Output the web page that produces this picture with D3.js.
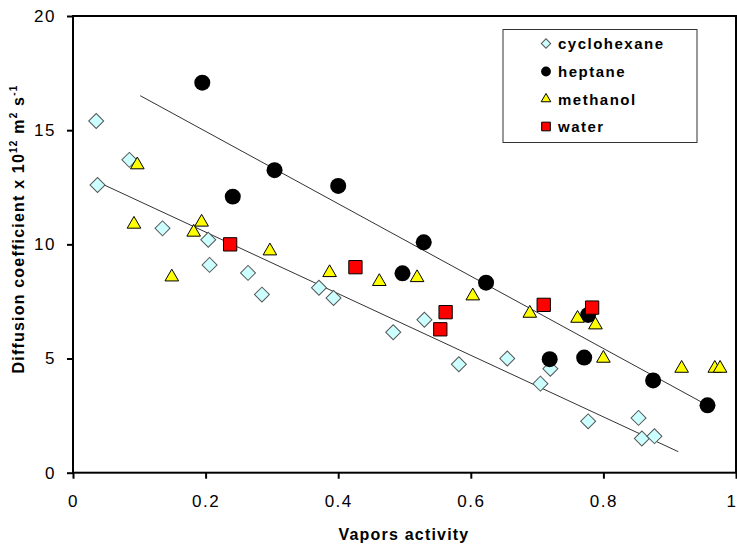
<!DOCTYPE html>
<html>
<head>
<meta charset="utf-8">
<script src="https://cdn.jsdelivr.net/npm/d3@7"></script>
<style>
  html, body { margin: 0; padding: 0; background: #fff; }
  svg { display: block; font-family: "Liberation Sans", Arial, sans-serif; }
</style>
</head>
<body>
<svg id="chart" width="737" height="547"></svg>
<script>
// Diffusion coefficient (x 10^12 m^2/s) against vapour activity
const cyclohexane = [
  [0.035, 15.40], [0.037, 12.60], [0.085, 13.70], [0.135, 10.70],
  [0.204, 10.20], [0.206, 9.10], [0.264, 8.75], [0.285, 7.80],
  [0.371, 8.10], [0.393, 7.65], [0.483, 6.15], [0.530, 6.70],
  [0.582, 4.75], [0.655, 5.00], [0.705, 3.90], [0.720, 4.55],
  [0.777, 2.25], [0.853, 2.40], [0.858, 1.50], [0.877, 1.60]
];
const heptane = [
  [0.195, 17.08], [0.304, 13.25], [0.241, 12.09], [0.400, 12.56],
  [0.529, 10.09], [0.497, 8.73], [0.623, 8.32], [0.719, 4.97],
  [0.771, 5.04], [0.777, 6.91], [0.875, 4.04], [0.957, 2.95]
];
const methanol = [
  [0.097, 13.48], [0.092, 10.88], [0.194, 10.97], [0.182, 10.53],
  [0.297, 9.71], [0.149, 8.57], [0.387, 8.76], [0.462, 8.37],
  [0.519, 8.54], [0.603, 7.74], [0.689, 6.98], [0.761, 6.76],
  [0.788, 6.47], [0.800, 5.01], [0.918, 4.57], [0.968, 4.57],
  [0.976, 4.57]
];
const water = [
  [0.237, 10.00], [0.426, 9.00], [0.562, 7.03], [0.554, 6.28],
  [0.710, 7.35], [0.783, 7.23]
];
// Linear trend lines (start and end points)
const trendUpper = [[0.1015, 16.51], [0.957, 2.95]];
const trendLower = [[0.033, 12.79], [0.913, 0.92]];

const xTicks = [0, 0.2, 0.4, 0.6, 0.8, 1];
const xTickLabels = ["0", "0.2", "0.4", "0.6", "0.8", "1"];
const yTicks = [0, 5, 10, 15, 20];
const legendNames = ["cyclohexane", "heptane", "methanol", "water"];

const svg = d3.select("#chart");
const x = d3.scaleLinear().domain([0, 1]).range([73, 736]);
const y = d3.scaleLinear().domain([0, 20]).range([472.7, 16]);

// marker styles per series
const styles = {
  cyclohexane: { type: d3.symbolSquare, size: 112, rotate: 45, fill: "#ccffff", stroke: "#555", sw: 1 },
  heptane:     { type: d3.symbolCircle, size: 201, rotate: 0, fill: "#000", stroke: "#000", sw: 0 },
  methanol:    { type: d3.symbolTriangle, size: 80, rotate: 0, fill: "#ffff00", stroke: "#000", sw: 1 },
  water:       { type: d3.symbolSquare, size: 177, rotate: 0, fill: "#ff0000", stroke: "#000", sw: 1 }
};
const legendSizes = { cyclohexane: 44, heptane: 75, methanol: 40, water: 75 };

// trend lines
const line = d3.line().x(d => x(d[0])).y(d => y(d[1]));
[trendUpper, trendLower].forEach(t => {
  svg.append("path").attr("d", line(t))
    .attr("fill", "none").attr("stroke", "#333").attr("stroke-width", 1);
});

// markers
const seriesData = { cyclohexane, heptane, methanol, water };
legendNames.forEach(name => {
  const s = styles[name];
  svg.append("g").selectAll("path").data(seriesData[name]).join("path")
    .attr("d", d3.symbol().type(s.type).size(s.size))
    .attr("transform", d => `translate(${x(d[0])},${y(d[1])}) rotate(${s.rotate})`)
    .attr("fill", s.fill).attr("stroke", s.stroke).attr("stroke-width", s.sw);
});

// frame
const frame = svg.append("g").attr("stroke", "#000").attr("stroke-width", 2).attr("fill", "none");
frame.append("rect")
  .attr("x", x(0)).attr("y", y(20))
  .attr("width", x(1) - x(0)).attr("height", y(0) - y(20));

// x axis
const xAxis = svg.append("g").attr("transform", `translate(0,${y(0)})`)
  .call(d3.axisBottom(x).tickValues(xTicks).tickSize(6).tickPadding(16)
    .tickFormat((d, i) => xTickLabels[i]));
xAxis.select(".domain").remove();
xAxis.selectAll("line").attr("stroke", "#000").attr("stroke-width", 2);
xAxis.selectAll("text").attr("font-size", 17).attr("fill", "#000")
  .attr("font-family", "Liberation Sans, Arial, sans-serif").style("letter-spacing", "1.5px");
// keep the last label inside the right edge
xAxis.selectAll("text").filter(d => d === 1).attr("text-anchor", "end").attr("dx", 1);

// y axis
const yAxis = svg.append("g").attr("transform", `translate(${x(0)},0)`)
  .call(d3.axisLeft(y).tickValues(yTicks).tickSize(6).tickPadding(11));
yAxis.select(".domain").remove();
yAxis.selectAll("line").attr("stroke", "#000").attr("stroke-width", 2);
yAxis.selectAll("text").attr("font-size", 17).attr("fill", "#000")
  .attr("font-family", "Liberation Sans, Arial, sans-serif").style("letter-spacing", "1.5px");

// axis titles
svg.append("text").attr("x", 404).attr("y", 540).attr("text-anchor", "middle")
  .attr("font-size", 16).attr("font-weight", "bold").style("letter-spacing", "1.2px")
  .text("Vapors activity");

const yt = svg.append("text")
  .attr("transform", "translate(24,229) rotate(-90)")
  .attr("text-anchor", "middle")
  .attr("font-size", 16).attr("font-weight", "bold").style("letter-spacing", "1.2px");
yt.append("tspan").text("Diffusion coefficient x 10");
yt.append("tspan").attr("font-size", 10).attr("dy", -7).text("12");
yt.append("tspan").attr("dy", 7).text(" m");
yt.append("tspan").attr("font-size", 10).attr("dy", -7).text("2");
yt.append("tspan").attr("dy", 7).text(" s");
yt.append("tspan").attr("font-size", 10).attr("dy", -7).text("-1");

// legend
const lg = svg.append("g");
lg.append("rect").attr("x", 503).attr("y", 29.5).attr("width", 194).attr("height", 113)
  .attr("fill", "#fff").attr("stroke", "#333").attr("stroke-width", 1);
const rowY = [43.5, 71.5, 99, 126.5];
legendNames.forEach((name, i) => {
  const s = styles[name];
  lg.append("path")
    .attr("d", d3.symbol().type(s.type).size(legendSizes[name]))
    .attr("transform", `translate(546,${rowY[i]}) rotate(${s.rotate})`)
    .attr("fill", s.fill).attr("stroke", s.stroke).attr("stroke-width", s.sw);
  lg.append("text").attr("x", 558).attr("y", rowY[i] + 5.5)
    .attr("font-size", 15).attr("font-weight", "bold").style("letter-spacing", "1.5px")
    .text(name);
});
</script>
</body>
</html>
